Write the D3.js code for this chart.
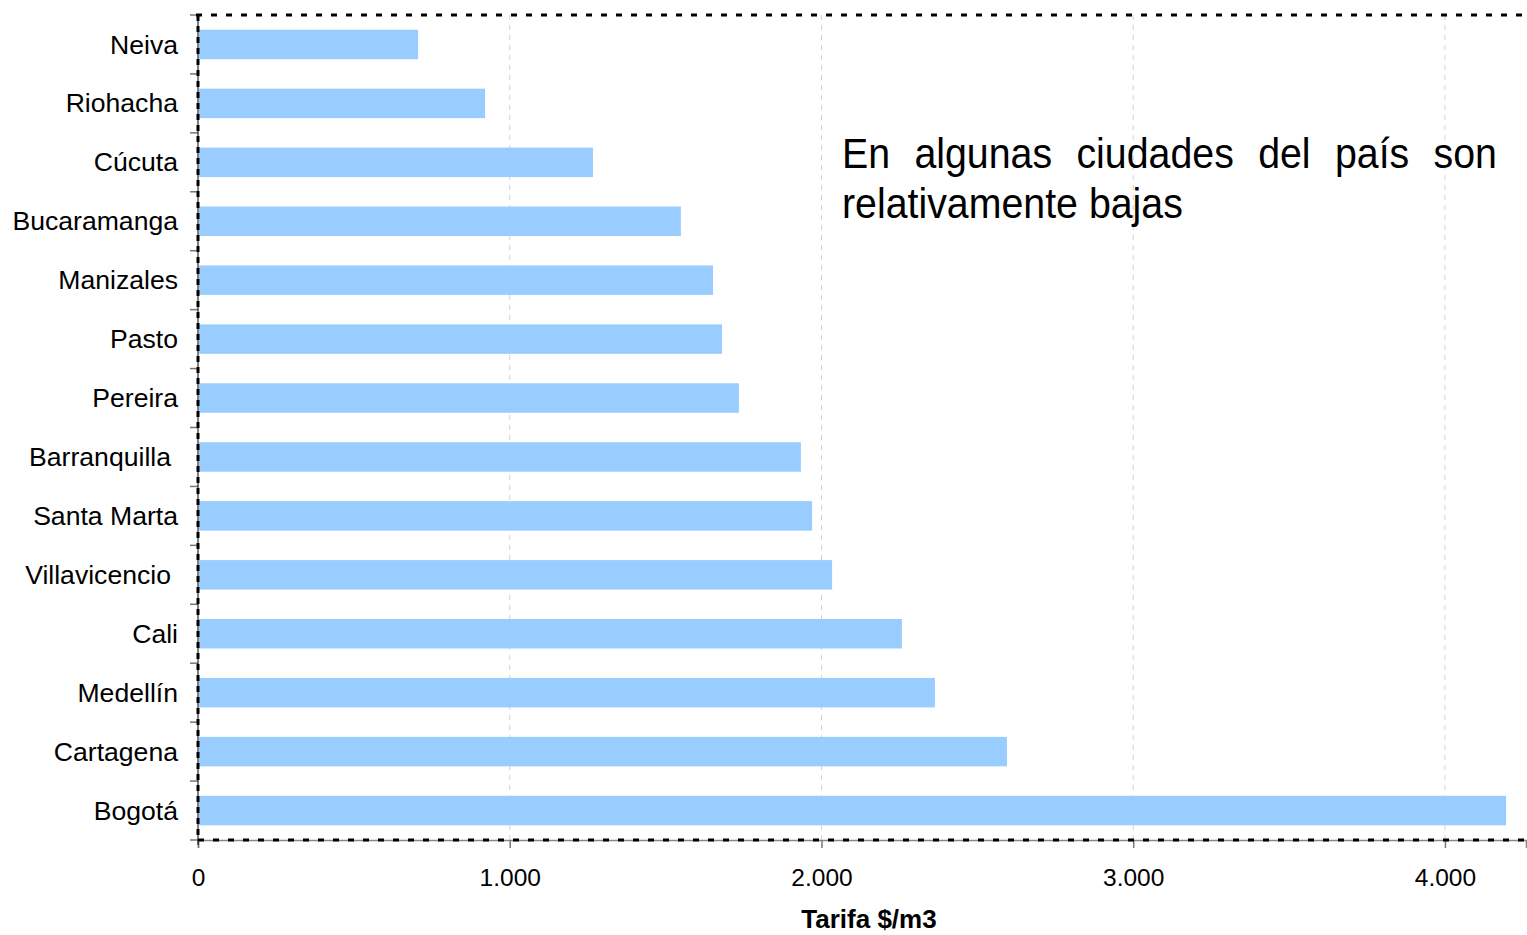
<!DOCTYPE html>
<html>
<head>
<meta charset="utf-8">
<script src="https://cdn.jsdelivr.net/npm/d3@7"></script>
<style>
  body { margin: 0; background: #fff; }
  text { font-family: "Liberation Sans", Arial, sans-serif; fill: #000; }
</style>
</head>
<body>
<div id="chart"></div>
<script>
const ciudades = ["Neiva", "Riohacha", "Cúcuta", "Bucaramanga", "Manizales", "Pasto", "Pereira",
  "Barranquilla", "Santa Marta", "Villavicencio", "Cali", "Medellín", "Cartagena", "Bogotá"];
const tarifas = [706, 921, 1267, 1549, 1652, 1681, 1735, 1934, 1970, 2034, 2258, 2364, 2595, 4196];
const ticks = [0, 1000, 2000, 3000, 4000];
const xMax = 4260;
const tituloX = "Tarifa $/m3";
const nota = ["En algunas ciudades del país son", "relativamente bajas"];

const width = 1527, height = 935;
const plotL = 198, plotR = 1526, plotT = 15, plotB = 840;

const svg = d3.select("#chart").append("svg")
  .attr("width", width)
  .attr("height", height);

const x = d3.scaleLinear().domain([0, xMax]).range([plotL, plotR]);
const y = d3.scaleBand().domain(ciudades).range([plotT, plotB]).paddingInner(0.5).paddingOuter(0.25);
const fmt = d3.formatLocale({ decimal: ",", thousands: ".", grouping: [3], currency: ["$", ""] }).format(",");

// grid
svg.append("g")
  .selectAll("line")
  .data(ticks.filter(d => d > 0))
  .enter().append("line")
  .attr("x1", d => x(d)).attr("x2", d => x(d))
  .attr("y1", plotT).attr("y2", plotB)
  .attr("stroke", "#d4d4d4")
  .attr("stroke-dasharray", "5,5");

// bars
svg.append("g")
  .selectAll("rect")
  .data(ciudades)
  .enter().append("rect")
  .attr("x", x(0) + 1)
  .attr("y", d => y(d))
  .attr("width", (d, i) => x(tarifas[i]) - x(0) - 1)
  .attr("height", y.bandwidth())
  .attr("fill", "#99ccff");

// y axis ticks at band boundaries
const bounds = ciudades.map(d => y(d) - y.step() * 0.25).concat([plotB]);
svg.append("g")
  .selectAll("line")
  .data(bounds)
  .enter().append("line")
  .attr("x1", plotL - 8).attr("x2", plotL)
  .attr("y1", d => d).attr("y2", d => d)
  .attr("stroke", "#777")
  .attr("stroke-width", 1.5);

// x axis
const xAxis = svg.append("g")
  .attr("transform", "translate(0," + plotB + ")")
  .call(d3.axisBottom(x).tickValues(ticks).tickFormat(fmt).tickSize(8).tickPadding(21));
xAxis.select(".domain").attr("stroke", "#888").attr("stroke-width", 1.5);
xAxis.selectAll(".tick line").attr("stroke", "#777").attr("stroke-width", 1.5);
xAxis.selectAll(".tick text")
  .attr("font-size", 24.5)
  .attr("font-family", "Liberation Sans, Arial, sans-serif")
  .attr("fill", "#000");

// borders
svg.append("line")
  .attr("x1", plotL).attr("x2", plotL).attr("y1", plotT).attr("y2", plotB + 5)
  .attr("stroke", "#000").attr("stroke-width", 1);
svg.append("line")
  .attr("x1", plotL).attr("x2", plotL).attr("y1", plotT).attr("y2", plotB)
  .attr("stroke", "#000").attr("stroke-width", 3).attr("stroke-dasharray", "6,5");
svg.append("line")
  .attr("x1", plotL - 2).attr("x2", width).attr("y1", plotT).attr("y2", plotT)
  .attr("stroke", "#000").attr("stroke-width", 3).attr("stroke-dasharray", "6,9");
svg.append("line")
  .attr("x1", plotL).attr("x2", width).attr("y1", plotB).attr("y2", plotB)
  .attr("stroke", "#000").attr("stroke-width", 3).attr("stroke-dasharray", "6,9");

// y labels
svg.append("g")
  .selectAll("text")
  .data(ciudades)
  .enter().append("text")
  .attr("x", d => (d === "Barranquilla" || d === "Villavicencio") ? 171 : 178)
  .attr("y", d => y(d) + y.bandwidth() / 2)
  .attr("dy", "0.34em")
  .attr("text-anchor", "end")
  .attr("font-size", 26.6)
  .text(d => d);

// axis title
svg.append("text")
  .attr("x", 869).attr("y", 928)
  .attr("text-anchor", "middle")
  .attr("font-size", 26)
  .attr("font-weight", "bold")
  .text(tituloX);

// annotation: condensed type, first line justified
const noteX0 = 842, noteX1 = 1497, line2W = 341;
const note = svg.append("g");
const t2 = note.append("text").attr("x", 0).attr("y", 218).attr("font-size", 43).text(nota[1]);
const sx = line2W / t2.node().getComputedTextLength();
note.attr("transform", "translate(" + noteX0 + ",0) scale(" + sx + ",1)");
const words = nota[0].split(" ");
const t1 = note.append("text").attr("y", 168).attr("font-size", 43);
const spans = words.map(w => t1.append("tspan").text(w));
const widths = spans.map(s => s.node().getComputedTextLength());
const gap = ((noteX1 - noteX0) / sx - d3.sum(widths)) / (words.length - 1);
let cx = 0;
spans.forEach((s, i) => { s.attr("x", cx); cx += widths[i] + gap; });
</script>
</body>
</html>
